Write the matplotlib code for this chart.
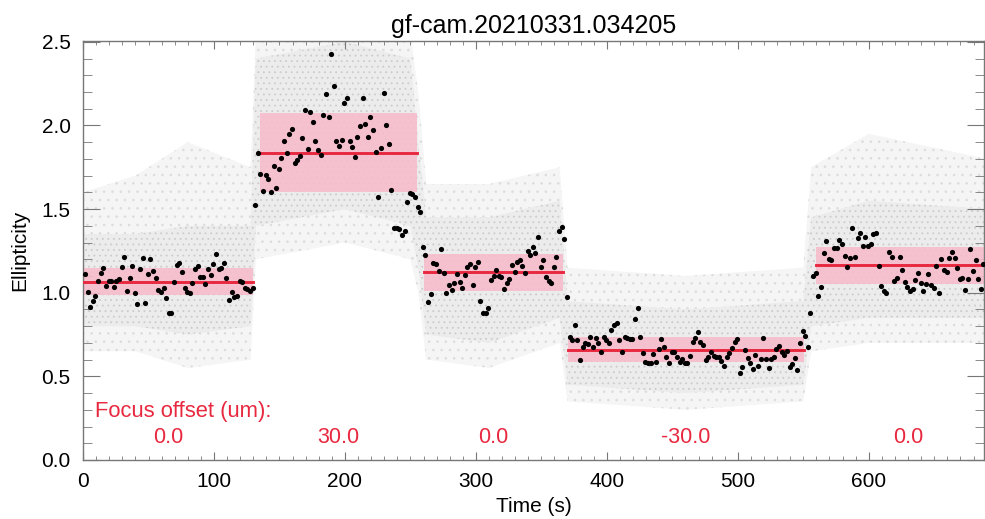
import numpy as np
import matplotlib
matplotlib.use('Agg')
import matplotlib.pyplot as plt
from matplotlib.ticker import MultipleLocator, FormatStrFormatter

plt.rcParams['font.family'] = ['Liberation Sans', 'DejaVu Sans']
plt.rcParams['hatch.linewidth'] = 0.6

# binned ellipticity, one value every 2 s
t0 = 1.5
cadence = 2.0
seg1_vals = [1.111, 1.007, 0.917, 0.951, 0.983, 1.073, 1.116, 1.150, 1.043, 1.073,
             1.069, 1.037, 1.073, 1.081, 1.156, 1.216, 1.013, 1.091, 1.162, 0.997,
             0.933, 1.140, 1.206, 0.937, 1.112, 1.200, 1.132, 1.087, 1.017, 1.007,
             1.027, 0.967, 0.881, 0.881, 1.063, 1.166, 1.180, 1.126, 1.027, 1.007,
             1.001, 1.061, 1.140, 1.162, 1.096, 1.096, 1.051, 1.140, 1.106, 1.172,
             1.232, 1.140, 1.150, 1.180, 1.091, 0.957, 1.007, 0.973, 0.981, 1.073,
             1.063, 1.027, 1.021, 1.013, 1.027]
seg2_vals = [1.525, 1.834, 1.708, 1.609, 1.705, 1.679, 1.600, 1.758, 1.625, 1.738,
             1.804, 1.910, 1.838, 1.946, 1.978, 1.774, 1.794, 1.820, 1.924, 2.093,
             1.860, 2.083, 2.023, 1.910, 1.854, 1.824, 2.063, 2.189, 2.050, 2.428,
             2.233, 1.906, 1.878, 1.914, 2.137, 2.163, 1.906, 1.874, 1.810, 1.934,
             1.998, 2.163, 2.010, 1.930, 2.048, 1.970, 1.844, 1.571, 1.864, 2.197,
             2.000, 1.888, 1.615, 1.386, 1.386, 1.380, 1.346, 1.370, 1.545, 1.599,
             1.591, 1.575, 1.515, 1.483, 1.276]
seg3_vals = [1.226, 0.947, 0.993, 1.176, 1.170, 1.132, 1.262, 1.117, 0.997, 1.047,
             1.017, 1.061, 1.113, 1.067, 1.031, 1.106, 1.152, 1.172, 1.047, 1.156,
             1.186, 0.953, 0.881, 0.881, 0.911, 1.077, 1.100, 1.136, 1.100, 1.093,
             1.021, 1.057, 1.081, 1.166, 1.126, 1.186, 1.196, 1.160, 1.117, 1.250,
             1.226, 1.276, 1.236, 1.332, 1.156, 1.196, 1.093, 1.072, 1.061, 1.156,
             1.212, 1.372, 1.392, 1.320, 0.977]
seg4_vals = [0.738, 0.718, 0.807, 0.718, 0.598, 0.674, 0.698, 0.692, 0.738, 0.674,
             0.728, 0.698, 0.648, 0.738, 0.718, 0.702, 0.777, 0.807, 0.817, 0.718,
             0.648, 0.738, 0.728, 0.722, 0.722, 0.841, 0.907, 0.738, 0.638, 0.588,
             0.582, 0.582, 0.634, 0.588, 0.662, 0.722, 0.674, 0.618, 0.578, 0.648,
             0.648, 0.618, 0.588, 0.602, 0.582, 0.578, 0.622, 0.708, 0.728, 0.767,
             0.708, 0.688, 0.598, 0.618, 0.648, 0.622, 0.618, 0.618, 0.594, 0.562,
             0.618, 0.638, 0.668, 0.708, 0.722, 0.518, 0.558, 0.658, 0.608, 0.582,
             0.542, 0.628, 0.562, 0.602, 0.732, 0.602, 0.548, 0.602, 0.614, 0.662,
             0.682, 0.648, 0.628, 0.652, 0.554, 0.574, 0.608, 0.538, 0.698, 0.771,
             0.742, 0.678, 0.881]
seg5_vals = [1.100, 1.116, 0.981, 1.037, 1.236, 1.312, 1.200, 1.196, 1.266, 1.266,
             1.316, 1.292, 1.220, 1.156, 1.206, 1.386, 1.212, 1.326, 1.360, 1.280,
             1.336, 1.280, 1.292, 1.352, 1.360, 1.160, 1.041, 1.013, 1.001, 1.242,
             1.212, 1.073, 1.086, 1.212, 1.136, 1.067, 1.037, 1.013, 1.021, 1.076,
             1.120, 1.061, 1.013, 1.053, 1.112, 1.047, 1.027, 1.162, 0.997, 1.202,
             1.136, 1.126, 1.206, 1.244, 1.206, 1.146, 1.080, 1.090, 1.017, 1.080,
             1.262, 1.130, 1.196, 1.080, 1.021, 1.172]

# per focus position: start, end, mean, band low, band high
seg_start = [0, 135, 260.5, 370, 560]
seg_end = [130, 255, 366.5, 550.5, 700]
seg_mean = [1.066, 1.838, 1.124, 0.658, 1.166]
seg_lo = [0.987, 1.601, 1.013, 0.588, 1.053]
seg_hi = [1.150, 2.073, 1.230, 0.738, 1.276]
focus_offsets = ['0.0', '30.0', '0.0', '-30.0', '0.0']

# envelope of the faint unbinned cloud (outer = sparse, inner = dense)
cloud_t = [0, 40, 80, 128, 132, 200, 250, 256, 262, 310, 364, 370, 460, 550, 556, 600, 690]
cloud_outer_lo = [0.65, 0.65, 0.55, 0.60, 1.20, 1.30, 1.20, 1.00, 0.60, 0.55, 0.70, 0.35, 0.30, 0.35, 0.65, 0.70, 0.70]
cloud_inner_lo = [0.80, 0.80, 0.75, 0.80, 1.40, 1.50, 1.40, 1.15, 0.75, 0.70, 0.85, 0.45, 0.40, 0.45, 0.80, 0.85, 0.85]
cloud_inner_hi = [1.35, 1.35, 1.40, 1.40, 2.40, 2.50, 2.40, 1.90, 1.45, 1.45, 1.55, 0.95, 0.90, 0.95, 1.45, 1.55, 1.50]
cloud_outer_hi = [1.60, 1.70, 1.90, 1.75, 2.55, 2.55, 2.55, 2.20, 1.65, 1.65, 1.75, 1.15, 1.10, 1.15, 1.75, 1.95, 1.80]

ell = np.array(seg1_vals + seg2_vals + seg3_vals + seg4_vals + seg5_vals)
t = t0 + cadence * np.arange(len(ell))

fig = plt.figure(figsize=(9.85, 5.19), dpi=100)
ax = fig.add_axes([0.0843, 0.1137, 0.9147, 0.8073])

red = '#e8283f'
pink = '#f8bccb'

# faint cloud
ax.fill_between(cloud_t, cloud_outer_lo, cloud_outer_hi, facecolor='#f5f5f5',
                edgecolor='#dcdcdc', hatch='..', linewidth=0, zorder=1)
ax.fill_between(cloud_t, cloud_inner_lo, cloud_inner_hi, facecolor='#ececec',
                edgecolor='#cccccc', hatch='...', linewidth=0, zorder=1)

for i in range(len(seg_start)):
    ax.fill_between([seg_start[i], seg_end[i]], seg_lo[i], seg_hi[i],
                    color=pink, alpha=0.88, linewidth=0, zorder=2)
    ax.plot([seg_start[i], seg_end[i]], [seg_mean[i]] * 2, color=red, lw=2.1, zorder=3)
    ax.text((seg_start[i] + seg_end[i]) / 2, 0.137, focus_offsets[i], color=red,
            fontsize=15.5, ha='center', va='center')

ax.scatter(t, ell, s=14, color='black', linewidths=0, zorder=4)

ax.text(9, 0.287, 'Focus offset (um):', color=red, fontsize=15.8, ha='left', va='center')

ax.set_xlim(0, 688)
ax.set_ylim(0, 2.505)
ax.xaxis.set_major_locator(MultipleLocator(100))
ax.xaxis.set_minor_locator(MultipleLocator(10))
ax.yaxis.set_major_locator(MultipleLocator(0.5))
ax.yaxis.set_minor_locator(MultipleLocator(0.1))
ax.yaxis.set_major_formatter(FormatStrFormatter('%.1f'))

ax.tick_params(which='both', direction='in', top=True, right=True, color='#777777',
               labelsize=15, labelcolor='black')
ax.tick_params(axis='x', which='major', length=5.5, pad=9)
ax.tick_params(axis='x', which='minor', length=3)
ax.tick_params(axis='y', which='major', length=12, pad=9)
ax.tick_params(axis='y', which='minor', length=6.5)
for s in ax.spines.values():
    s.set_color('#777777')
    s.set_linewidth(1.0)

ax.set_xlabel('Time (s)', fontsize=15, labelpad=4)
ax.set_ylabel('Ellipticity', fontsize=15, labelpad=9)
ax.set_title('gf-cam.20210331.034205', fontsize=18, pad=6)

fig.savefig('out.png', dpi=100)
